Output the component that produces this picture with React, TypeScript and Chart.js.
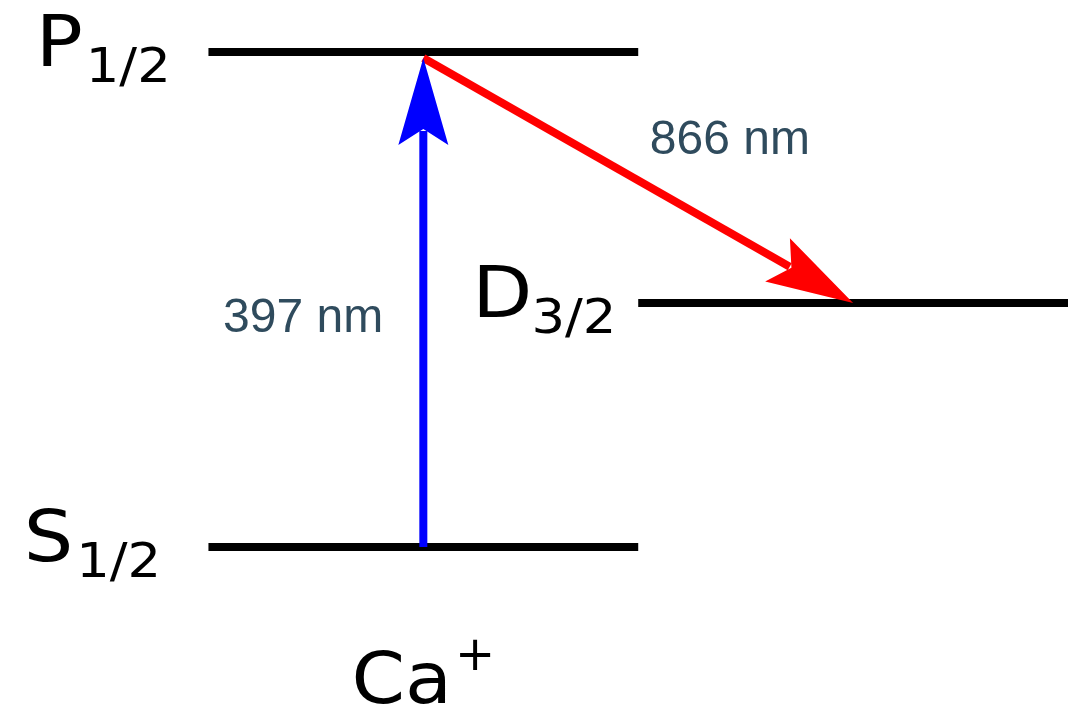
import React, { useEffect, useRef } from "react";
import { Chart, registerables } from "chart.js";

Chart.register(...registerables);

// Energy levels of Ca+ (schematic energy, S1/2 = 0, P1/2 = 1)
const levelNames = ["S", "P", "D"];
const levelSubscripts = ["1/2", "1/2", "3/2"];
const levelEnergies = [0, 1, 0.493];
const levelStartX = [0, 0, 1];
const levelEndX = [1, 1, 2];
const levelLabelX = [-0.43, -0.402, 0.614];

// Laser transitions between levels (indices into the level arrays)
const transitionNames = ["397 nm", "866 nm"];
const transitionFrom = [0, 1];
const transitionTo = [1, 2];
const transitionFromX = [0.5, 0.5];
const transitionToX = [0.5, 1.5];
const transitionLabelX = [0.034, 1.027];
const transitionLabelY = [0.434, 0.794];

// Ion name shown under the diagram
const ionName = "Ca";
const ionCharge = "+";
const ionLabelX = 0.5;
const ionLabelY = -0.315;

// Styling
const LEVEL_COLOR = "#000000";
const LEVEL_WIDTH = 8;
const ARROW_COLORS = ["#0000FF", "#FF0000"];
const ARROW_WIDTH = 8;
const ARROW_FROM_DY = [0, 6];
const ARROW_TO_DY = [6, 0];
const HEAD_LEN = 87;
const HEAD_NOTCH = 71;
const HEAD_HALF = 25;
const LABEL_COLOR = "#2F4B5D";
const SYMBOL_FONT = "DejaVu Sans";
const SYMBOL_STRETCH = 1.1;
const SUB_GAP = [3, 3, -1];

const drawSymbol = (
  ctx: CanvasRenderingContext2D,
  x: number,
  baseline: number,
  main: string,
  small: string,
  smallDy: number,
  gap: number
) => {
  ctx.save();
  ctx.translate(x, baseline);
  ctx.scale(SYMBOL_STRETCH, 1);
  ctx.fillStyle = "#000000";
  ctx.textAlign = "left";
  ctx.textBaseline = "alphabetic";
  ctx.font = `71px "${SYMBOL_FONT}"`;
  ctx.fillText(main, 0, 0);
  const w = ctx.measureText(main).width;
  ctx.font = `48px "${SYMBOL_FONT}"`;
  ctx.fillText(small, w + gap / SYMBOL_STRETCH, smallDy);
  ctx.restore();
};

const diagramPlugin = {
  id: "levelDiagram",
  beforeDatasetDraw(chart: any, args: any) {
    const ds = chart.data.datasets[args.index] as any;
    if (ds.arrowIndex === undefined) return;
    const k = ds.arrowIndex;
    const meta = args.meta;
    const p0 = meta.data[0];
    const p1 = meta.data[1];
    const x0 = p0.x;
    const y0 = p0.y + ARROW_FROM_DY[k];
    const x1 = p1.x;
    const y1 = p1.y + ARROW_TO_DY[k];
    const dx = x1 - x0;
    const dy = y1 - y0;
    const len = Math.hypot(dx, dy);
    const ux = dx / len;
    const uy = dy / len;
    const nx = -uy;
    const ny = ux;
    const ctx = chart.ctx as CanvasRenderingContext2D;
    ctx.save();
    ctx.strokeStyle = ds.borderColor;
    ctx.fillStyle = ds.borderColor;
    ctx.lineWidth = ARROW_WIDTH;
    ctx.lineCap = "butt";
    ctx.beginPath();
    ctx.moveTo(x0, y0);
    ctx.lineTo(x1 - ux * (HEAD_NOTCH + 2), y1 - uy * (HEAD_NOTCH + 2));
    ctx.stroke();
    ctx.beginPath();
    ctx.moveTo(x1, y1);
    ctx.lineTo(x1 - ux * HEAD_LEN + nx * HEAD_HALF, y1 - uy * HEAD_LEN + ny * HEAD_HALF);
    ctx.lineTo(x1 - ux * HEAD_NOTCH, y1 - uy * HEAD_NOTCH);
    ctx.lineTo(x1 - ux * HEAD_LEN - nx * HEAD_HALF, y1 - uy * HEAD_LEN - ny * HEAD_HALF);
    ctx.closePath();
    ctx.fill();
    ctx.restore();
    return false;
  },
  afterDatasetsDraw(chart: any) {
    const ctx = chart.ctx as CanvasRenderingContext2D;
    const xs = chart.scales.x;
    const ys = chart.scales.y;

    // level symbols with subscripts
    levelNames.forEach((name, i) => {
      const x = xs.getPixelForValue(levelLabelX[i]);
      const y = ys.getPixelForValue(levelEnergies[i]);
      drawSymbol(ctx, x, y + 14.5, name, levelSubscripts[i], 16, SUB_GAP[i]);
    });

    // transition wavelengths
    ctx.save();
    ctx.fillStyle = LABEL_COLOR;
    ctx.font = `48px "Liberation Sans", Arial, sans-serif`;
    ctx.textAlign = "left";
    ctx.textBaseline = "alphabetic";
    transitionNames.forEach((t, i) => {
      ctx.fillText(t, xs.getPixelForValue(transitionLabelX[i]), ys.getPixelForValue(transitionLabelY[i]));
    });
    ctx.restore();

    // ion name with charge superscript, centred under the 397 nm arrow
    const ionStretch = 1.08;
    const gap = 3;
    ctx.save();
    ctx.fillStyle = "#000000";
    ctx.textAlign = "left";
    ctx.textBaseline = "alphabetic";
    ctx.font = `71px "${SYMBOL_FONT}"`;
    const wMain = ctx.measureText(ionName).width * ionStretch;
    ctx.font = `48px "${SYMBOL_FONT}"`;
    const wCharge = ctx.measureText(ionCharge).width;
    const total = wMain + gap + wCharge;
    const left = xs.getPixelForValue(ionLabelX) - total / 2;
    const by = ys.getPixelForValue(ionLabelY);
    ctx.fillText(ionCharge, left + wMain + gap, by - 33);
    ctx.translate(left, by);
    ctx.scale(ionStretch, 1);
    ctx.font = `71px "${SYMBOL_FONT}"`;
    ctx.fillText(ionName, 0, 0);
    ctx.restore();
  },
};

export default function App() {
  const canvasRef = useRef<HTMLCanvasElement | null>(null);

  useEffect(() => {
    if (!canvasRef.current) return;

    const levelSets = levelNames.map((name, i) => ({
      label: `${name}${levelSubscripts[i]}`,
      data: [
        { x: levelStartX[i], y: levelEnergies[i] },
        { x: levelEndX[i], y: levelEnergies[i] },
      ],
      showLine: true,
      borderColor: LEVEL_COLOR,
      borderWidth: LEVEL_WIDTH,
      borderCapStyle: "butt",
      pointRadius: 0,
      order: 2,
    }));

    const arrowSets = transitionNames.map((name, k) => ({
      label: name,
      arrowIndex: k,
      data: [
        { x: transitionFromX[k], y: levelEnergies[transitionFrom[k]] },
        { x: transitionToX[k], y: levelEnergies[transitionTo[k]] },
      ],
      showLine: true,
      borderColor: ARROW_COLORS[k],
      borderWidth: ARROW_WIDTH,
      pointRadius: 0,
      order: 1,
    }));

    const chart = new Chart(canvasRef.current, {
      type: "scatter",
      data: { datasets: [...arrowSets, ...levelSets] as any },
      options: {
        animation: false,
        responsive: false,
        layout: { padding: 0 },
        events: [],
        scales: {
          x: { type: "linear", display: false, min: -0.485, max: 2.0 },
          y: { type: "linear", display: false, min: -0.3253, max: 1.105 },
        },
        plugins: {
          legend: { display: false },
          tooltip: { enabled: false },
        },
      },
      plugins: [diagramPlugin as any],
    });

    return () => chart.destroy();
  }, []);

  return (
    <div
      style={{
        position: "fixed",
        left: 0,
        top: 0,
        width: 1068,
        height: 708,
        background: "#ffffff",
      }}
    >
      <canvas ref={canvasRef} width={1068} height={708} />
    </div>
  );
}
